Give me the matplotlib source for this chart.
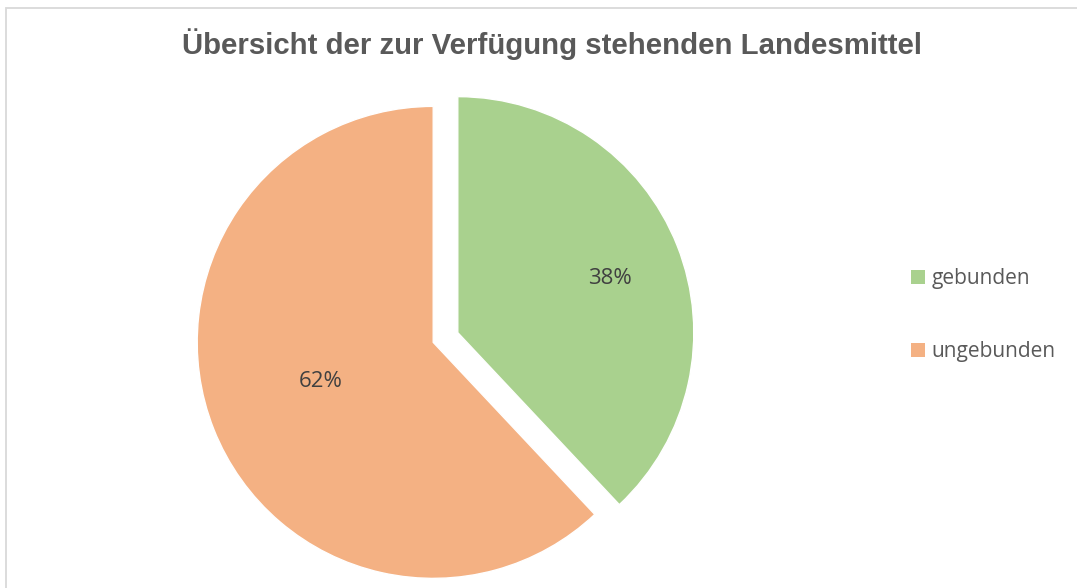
import numpy as np
import matplotlib.pyplot as plt
from matplotlib.patches import Patch, Rectangle

# data
labels = ["gebunden", "ungebunden"]
shares = [38, 62]
colors = ["#A9D18E", "#F4B183"]
explode = [0.056, 0.056]
# percentage label placement as Excel did it: distance from wedge centre, angle tweak (deg)
label_dist = [0.688, 0.503]
label_turn = [-1.2, -3.4]

W, H = 1077, 588
fig = plt.figure(figsize=(W / 100, H / 100), dpi=100)
fig.patch.set_facecolor("white")

# light grey chart border (right/bottom lie outside the picture)
fig.patches.append(Rectangle((6 / W, -0.05), 1.2, 1 - 8 / H + 0.05,
                             transform=fig.transFigure, fill=False,
                             edgecolor="#D9D9D9", linewidth=1.3))

fig.text(552 / W, 1 - 44 / H, "Übersicht der zur Verfügung stehenden Landesmittel",
         ha="center", va="center", fontsize=21.2, fontweight="bold",
         color="#595959", family="Liberation Sans")

# square axes, 236 px radius pie centred at (445.5, 337.5) px
r_px = 236
half = 1.2
size = 2 * half * r_px
cx, cy = 445.5, 337.5
ax = fig.add_axes([(cx - size / 2) / W, (H - cy - size / 2) / H, size / W, size / H])

wedges, texts, autotexts = ax.pie(shares, colors=colors, explode=explode,
                                  startangle=90, counterclock=False,
                                  autopct="%1.0f%%", radius=1,
                                  wedgeprops=dict(edgecolor="white", linewidth=1),
                                  textprops=dict(color="#404040", fontsize=16, family="Open Sans"))
ax.set_xlim(-half, half)
ax.set_ylim(-half, half)
ax.axis("off")

for w, t, d, turn in zip(wedges, autotexts, label_dist, label_turn):
    mid = np.deg2rad((w.theta1 + w.theta2) / 2 + turn)
    x0, y0 = w.center
    t.set_position((x0 + d * np.cos(mid), y0 + d * np.sin(mid)))
    t.set_va("center_baseline")

handles = [Patch(facecolor=c, edgecolor="none") for c in colors]
fig.legend(handles, labels, loc="center left", bbox_to_anchor=(892 / W, 1 - 315 / H),
           frameon=False, labelcolor="#595959",
           prop=dict(family="Open Sans", size=15),
           handlelength=0.67, handleheight=0.67, handletextpad=0.34,
           labelspacing=2.5)

fig.savefig("out.png", dpi=100)
